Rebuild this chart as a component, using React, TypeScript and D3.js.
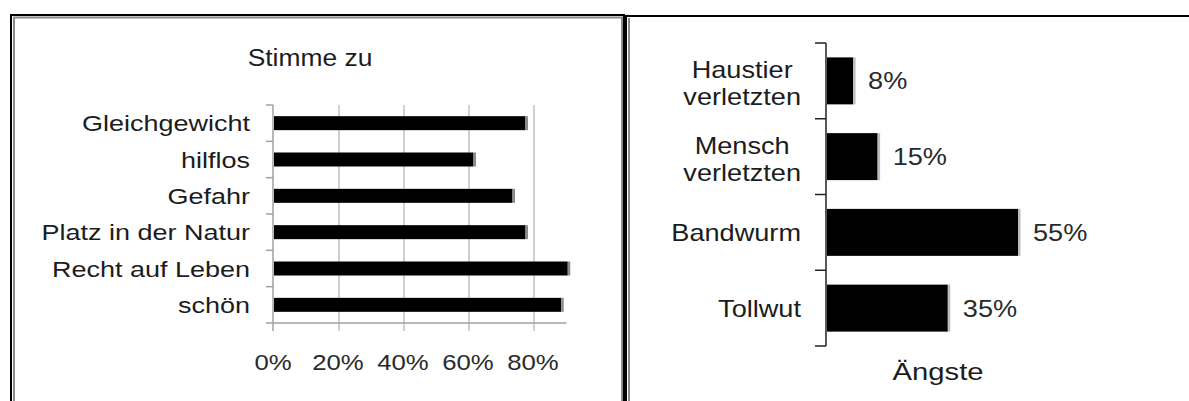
import React from "react";
import * as d3 from "d3";

const stimmeCategories = ["Gleichgewicht", "hilflos", "Gefahr", "Platz in der Natur", "Recht auf Leben", "schön"];
const stimmeValues = [0.78, 0.62, 0.74, 0.78, 0.91, 0.89];
const stimmeTicks = [0, 0.2, 0.4, 0.6, 0.8];
const stimmeTitle = "Stimme zu";

const angsteCategories = [["Haustier", "verletzten"], ["Mensch", "verletzten"], ["Bandwurm"], ["Tollwut"]];
const angsteValues = [0.08, 0.15, 0.55, 0.35];
const angsteTitle = "Ängste";

const FONT = '"Liberation Sans", Arial, sans-serif';
const TXT = "#1c1c1c";

function measure(text: string, size: number): number {
  const c = document.createElement("canvas");
  const ctx = c.getContext("2d");
  if (!ctx) return text.length * size * 0.5;
  ctx.font = `${size}px ${FONT}`;
  return ctx.measureText(text).width;
}

function SText({ x, y, sx = 1.2, size = 22, anchor = "start", children, fill = TXT }: any) {
  return (
    <text
      transform={`translate(${x},${y}) scale(${sx},1)`}
      textAnchor={anchor}
      fontFamily={FONT}
      fontSize={size}
      fill={fill}
    >
      {children}
    </text>
  );
}

export default function App() {
  // Left chart
  const xL = d3.scaleLinear().domain([0, 0.9]).range([274, 566.5]);
  const yL = d3.scaleBand<string>().domain(stimmeCategories).range([105, 323]).paddingInner(0.615).paddingOuter(0.3075);
  const stepL = yL.step();

  // Right chart
  const xR = d3.scaleLinear().domain([0, 0.55]).range([827, 1020]);
  const keysR = angsteCategories.map((c) => c.join(" "));
  const yR = d3.scaleBand<string>().domain(keysR).range([43, 346]).paddingInner(0.38).paddingOuter(0.19);
  const stepR = yR.step();
  const sxR = 1.18;
  const sizeR = 23;
  const lineH = 27;

  return (
    <svg width={1189} height={401} style={{ position: "absolute", left: 0, top: 0, background: "#fff" }}>
      <rect x={0} y={0} width={1189} height={401} fill="#fff" />
      {/* Left panel frame */}
      <path d="M11,420 V15 H624 V420" fill="none" stroke="#000" strokeWidth={2} />
      <path d="M14,420 V17.5 H622 V420" fill="none" stroke="#8a8a8a" strokeWidth={2} />
      {/* Right panel frame */}
      <path d="M626,420 V16 H1200" fill="none" stroke="#000" strokeWidth={2} />
      <path d="M629,420 V18" fill="none" stroke="#8a8a8a" strokeWidth={2} />

      {/* Left chart */}
      <SText x={310} y={66} anchor="middle" size={24} sx={1.1}>{stimmeTitle}</SText>
      {stimmeTicks.filter((t) => t > 0).map((t) => (
        <line key={t} x1={xL(t)} x2={xL(t)} y1={105} y2={331} stroke="#d0d0d0" strokeWidth={2} />
      ))}
      <line x1={273} x2={273} y1={105} y2={331} stroke="#a0a0a0" strokeWidth={1.5} />
      {d3.range(stimmeCategories.length + 1).map((i) => (
        <line key={i} x1={266} x2={273} y1={105 + i * stepL} y2={105 + i * stepL} stroke="#a0a0a0" strokeWidth={1.5} />
      ))}
      <line x1={273} x2={xL(0.9)} y1={323} y2={323} stroke="#a0a0a0" strokeWidth={1.5} />
      {stimmeCategories.map((c, i) => {
        const y0 = yL(c)!;
        const w = xL(stimmeValues[i]) - xL(0);
        return (
          <g key={c}>
            <rect x={xL(0)} y={y0} width={w - 2} height={yL.bandwidth()} fill="#000" />
            <rect x={xL(0) + w - 2} y={y0} width={2.5} height={yL.bandwidth()} fill="#8c8c8c" />
            <SText x={250} y={y0 + yL.bandwidth() / 2 + 8} anchor="end" size={22.5} sx={1.2}>{c}</SText>
          </g>
        );
      })}
      {stimmeTicks.map((t) => (
        <SText key={t} x={xL(t) - 1} y={370} anchor="middle" size={23} sx={1.12} fill="#2a2a2a">
          {d3.format(".0%")(t)}
        </SText>
      ))}

      {/* Right chart */}
      <line x1={826} x2={826} y1={43} y2={346} stroke="#222" strokeWidth={1.5} />
      {d3.range(angsteCategories.length + 1).map((i) => (
        <line key={i} x1={815} x2={826} y1={43 + i * stepR} y2={43 + i * stepR} stroke="#222" strokeWidth={1.5} />
      ))}
      {angsteCategories.map((lines, i) => {
        const k = keysR[i];
        const y0 = yR(k)!;
        const bw = yR.bandwidth();
        const cy = y0 + bw / 2;
        const w = xR(angsteValues[i]) - xR(0);
        const maxW = Math.max(...lines.map((l) => measure(l, sizeR))) * sxR;
        const right = 801;
        const multi = lines.length > 1;
        return (
          <g key={k}>
            <rect x={xR(0)} y={y0} width={w - 2} height={bw} fill="#000" />
            <rect x={xR(0) + w - 2} y={y0} width={2.5} height={bw} fill="#bdbdbd" />
            <SText x={xR(angsteValues[i]) + 13} y={cy + 8.5} size={23} sx={1.18} fill="#2a2a2a">
              {d3.format(".0%")(angsteValues[i])}
            </SText>
            {lines.map((l, j) => (
              <SText
                key={j}
                x={multi ? right - maxW / 2 : right}
                y={cy + 8.5 + (multi ? 2 : 0) + (j - (lines.length - 1) / 2) * lineH}
                anchor={multi ? "middle" : "end"}
                size={sizeR}
                sx={sxR}
              >
                {l}
              </SText>
            ))}
          </g>
        );
      })}
      <SText x={938} y={380} anchor="middle" size={24} sx={1.22}>{angsteTitle}</SText>
    </svg>
  );
}
